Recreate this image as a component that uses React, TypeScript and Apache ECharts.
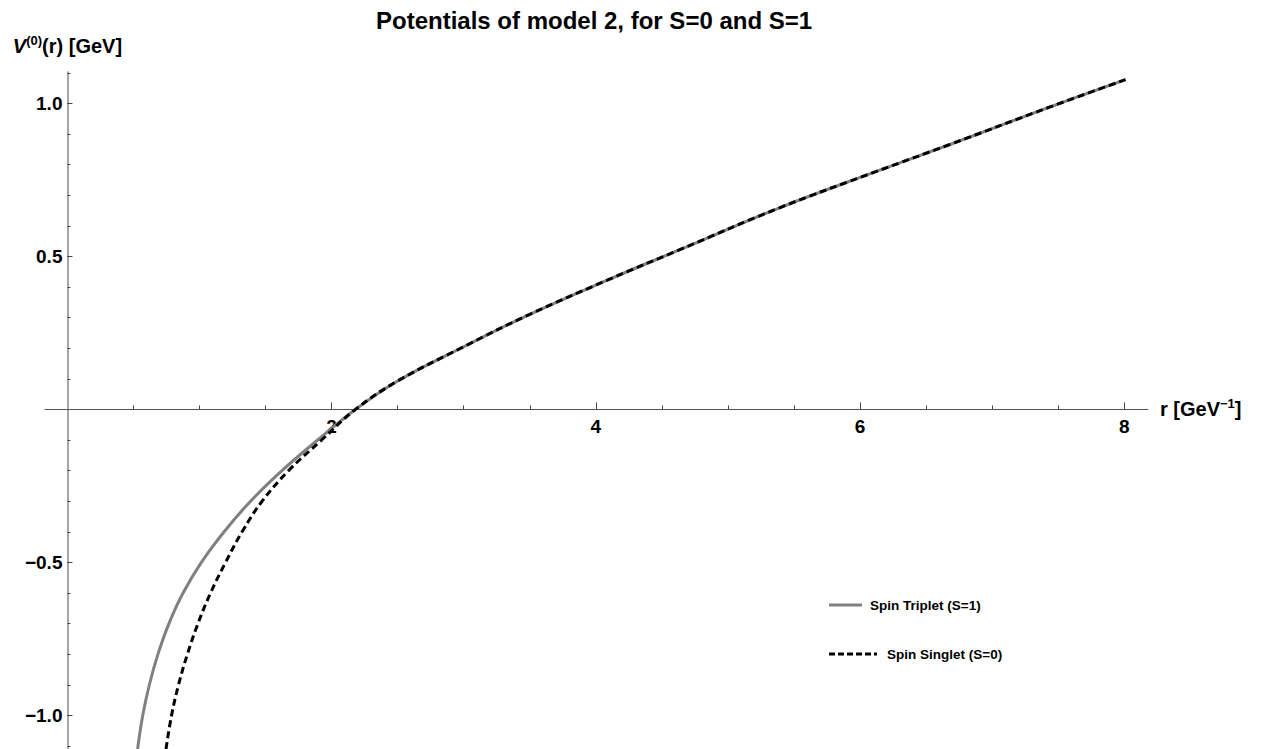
import React, { useEffect, useRef } from "react";
import * as echarts from "echarts";

// Spin triplet (S=1) potential
const rTriplet = [0.531, 0.57, 0.62, 0.685, 0.768, 0.875, 1.014, 1.186, 1.386, 1.624, 1.894, 2.18, 2.5, 3.0, 3.5, 4.1, 4.64, 5.39, 6.15, 6.68, 7.44, 8.01];
const vTriplet = [-1.11, -1.0, -0.9, -0.8, -0.7, -0.6, -0.5, -0.4, -0.3, -0.2, -0.1, 0.0, 0.093, 0.205, 0.311, 0.425, 0.523, 0.659, 0.782, 0.866, 0.989, 1.078];

// Spin singlet (S=0) potential
const rSinglet = [0.746, 0.788, 0.841, 0.908, 0.988, 1.083, 1.197, 1.322, 1.474, 1.674, 1.924, 2.18, 2.5, 3.0, 3.5, 4.1, 4.64, 5.39, 6.15, 6.68, 7.44, 8.01];
const vSinglet = [-1.11, -1.0, -0.9, -0.8, -0.7, -0.6, -0.5, -0.4, -0.3, -0.2, -0.1, 0.0, 0.093, 0.205, 0.311, 0.425, 0.523, 0.659, 0.782, 0.866, 0.989, 1.078];

const xMajorTicks = [2, 4, 6, 8];
const xMinorTicks = [0.5, 1, 1.5, 2, 2.5, 3, 3.5, 4, 4.5, 5, 5.5, 6, 6.5, 7, 7.5, 8];
const yMajorTicks = [-1, -0.5, 0.5, 1];
const yMinorTicks = [-1.1, -1, -0.9, -0.8, -0.7, -0.6, -0.5, -0.4, -0.3, -0.2, -0.1, 0.1, 0.2, 0.3, 0.4, 0.5, 0.6, 0.7, 0.8, 0.9, 1, 1.1];

const seriesNames = ["Spin Triplet (S=1)", "Spin Singlet (S=0)"];
const titleText = "Potentials of model 2, for S=0 and S=1";

const FONT = "'Liberation Sans', Arial, Helvetica, sans-serif";

function zip(xs: number[], ys: number[]) {
  return xs.map((x, i) => [x, ys[i]]);
}

export default function App() {
  const ref = useRef<HTMLDivElement>(null);
  useEffect(() => {
    if (!ref.current) return;
    const chart = echarts.init(ref.current, undefined, { renderer: "svg" });
    const W = 1263, H = 749;
    const gLeft = 45, gRight = 115, gTop = 72, gBottom = 0;
    const xMin = -0.17, xMax = 8.18, yMin = -1.11, yMax = 1.103;
    const gW = W - gLeft - gRight;
    const gH = H - gTop - gBottom;
    // distance of the zero lines from the grid's left / bottom edges
    const zeroFromLeft = ((0 - xMin) / (xMax - xMin)) * gW;
    const zeroFromBottom = ((0 - yMin) / (yMax - yMin)) * gH;
    const fmtY = (v: number) => (v < 0 ? "\u2212" + Math.abs(v).toFixed(1) : v.toFixed(1));
    const option: any = {
      animation: false,
      backgroundColor: "#ffffff",
      title: {
        text: titleText,
        left: 376,
        top: 8,
        padding: 0,
        textStyle: { fontFamily: FONT, fontWeight: "bold", fontSize: 24, color: "#000" },
      },
      grid: { left: gLeft, right: gRight, top: gTop, bottom: gBottom, containLabel: false, outerBoundsMode: "none" },
      xAxis: [
        {
          type: "value",
          min: xMin,
          max: xMax,
          position: "bottom",
          name: "{a|r [GeV}{s|\u22121}{a|]}",
          nameLocation: "end",
          nameGap: 12,
          nameTextStyle: {
            fontFamily: FONT,
            fontWeight: "bold",
            verticalAlign: "middle",
            rich: {
              a: { fontFamily: FONT, fontWeight: "bold", fontSize: 20, color: "#000", lineHeight: 24 },
              s: { fontFamily: FONT, fontWeight: "bold", fontSize: 13, color: "#000", lineHeight: 14, verticalAlign: "top" },
            },
          },
          axisLine: { show: true, onZero: true, onZeroAxisIndex: 0, lineStyle: { color: "#555", width: 1 } },
          axisTick: { show: true, inside: true, length: 4, customValues: xMinorTicks, lineStyle: { color: "#444", width: 1 } },
          axisLabel: { show: false },
          splitLine: { show: false },
        },
        {
          type: "value",
          min: xMin,
          max: xMax,
          position: "bottom",
          offset: -zeroFromBottom,
          axisLine: { show: false, onZero: false },
          axisTick: { show: true, inside: true, length: 7, customValues: xMajorTicks, lineStyle: { color: "#444", width: 1 } },
          axisLabel: {
            show: true,
            customValues: xMajorTicks,
            margin: 8,
            fontFamily: FONT,
            fontWeight: "bold",
            fontSize: 19,
            color: "#000",
            formatter: (v: number) => String(v),
          },
          splitLine: { show: false },
        },
      ],
      yAxis: [
        {
          type: "value",
          min: yMin,
          max: yMax,
          position: "left",
          name: "{v|V}{s|(0)}{a|(r) [GeV]}",
          nameLocation: "end",
          nameGap: 14,
          nameTextStyle: {
            fontFamily: FONT,
            fontWeight: "bold",
            rich: {
              v: { fontFamily: FONT, fontWeight: "bold", fontStyle: "italic", fontSize: 20, color: "#000", lineHeight: 24 },
              s: { fontFamily: FONT, fontWeight: "bold", fontSize: 13, color: "#000", lineHeight: 14, verticalAlign: "top" },
              a: { fontFamily: FONT, fontWeight: "bold", fontSize: 20, color: "#000", lineHeight: 24 },
            },
          },
          axisLine: { show: true, onZero: true, onZeroAxisIndex: 0, lineStyle: { color: "#888", width: 1.5 } },
          axisTick: { show: true, inside: true, length: 3, customValues: yMinorTicks, lineStyle: { color: "#444", width: 1 } },
          axisLabel: { show: false },
          splitLine: { show: false },
        },
        {
          type: "value",
          min: yMin,
          max: yMax,
          position: "left",
          offset: -zeroFromLeft,
          axisLine: { show: false, onZero: false },
          axisTick: { show: true, inside: true, length: 5, customValues: yMajorTicks, lineStyle: { color: "#444", width: 1 } },
          axisLabel: {
            show: true,
            customValues: yMajorTicks,
            margin: 5,
            fontFamily: FONT,
            fontWeight: "bold",
            fontSize: 19,
            color: "#000",
            formatter: fmtY,
          },
          splitLine: { show: false },
        },
      ],
      series: [
        {
          name: seriesNames[0],
          type: "line",
          xAxisIndex: 0,
          yAxisIndex: 0,
          data: zip(rTriplet, vTriplet),
          showSymbol: false,
          smooth: 0.4,
          clip: true,
          lineStyle: { color: "#808080", width: 3 },
          z: 3,
        },
        {
          name: seriesNames[1],
          type: "line",
          xAxisIndex: 0,
          yAxisIndex: 0,
          data: zip(rSinglet, vSinglet),
          showSymbol: false,
          smooth: 0.4,
          clip: true,
          lineStyle: { color: "#000000", width: 3, type: [7, 4] },
          z: 4,
        },
      ],
      graphic: [
        { type: "line", shape: { x1: 829, y1: 605, x2: 862, y2: 605 }, style: { stroke: "#808080", lineWidth: 3 } },
        {
          type: "text",
          x: 870,
          y: 605,
          style: { text: seriesNames[0], fontFamily: FONT, fontWeight: "bold", fontSize: 13.5, fill: "#000", verticalAlign: "middle" },
        },
        { type: "line", shape: { x1: 829, y1: 654, x2: 877, y2: 654 }, style: { stroke: "#000", lineWidth: 3, lineDash: [6, 3] } },
        {
          type: "text",
          x: 887,
          y: 654,
          style: { text: seriesNames[1], fontFamily: FONT, fontWeight: "bold", fontSize: 13.5, fill: "#000", verticalAlign: "middle" },
        },
      ],
    };
    chart.setOption(option);
    return () => chart.dispose();
  }, []);
  return (
    <div
      ref={ref}
      style={{ position: "fixed", left: 0, top: 0, width: 1263, height: 749, background: "#fff" }}
    />
  );
}
